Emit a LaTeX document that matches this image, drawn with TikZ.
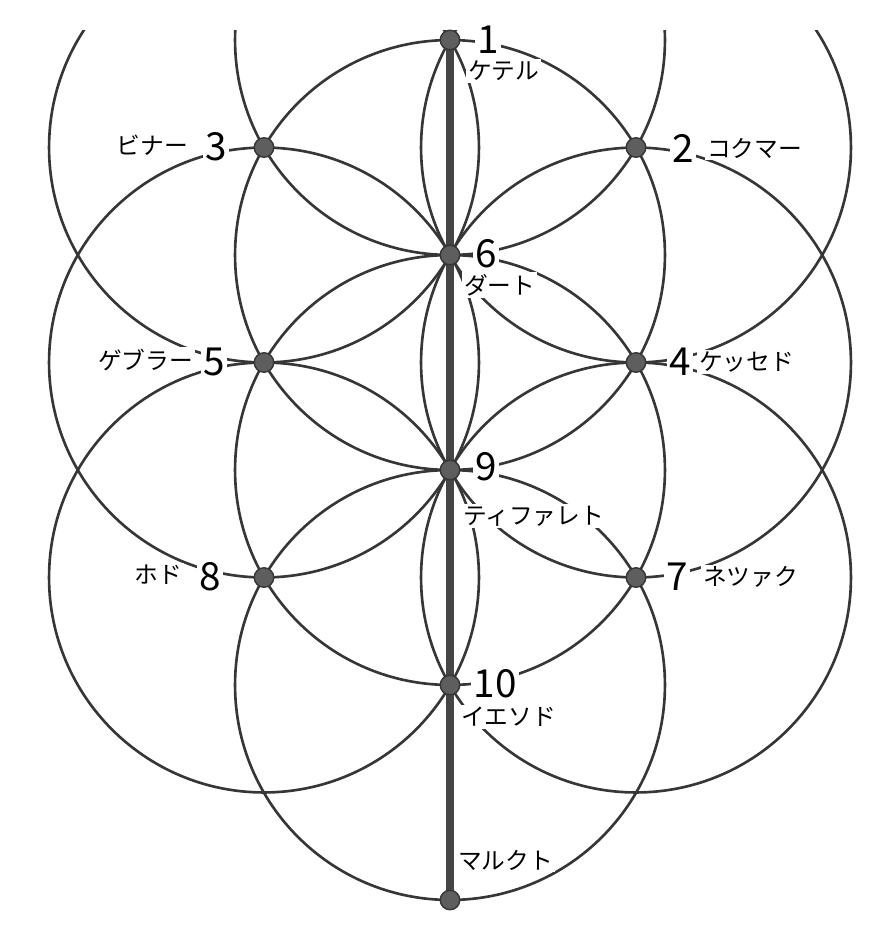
\documentclass[tikz,border=0pt]{standalone}
\usepackage{fontspec}
\newfontfamily\jpfont{Noto Sans CJK JP}
\usetikzlibrary{positioning}
\definecolor{ink}{HTML}{363636}
\definecolor{dotfill}{HTML}{5E5E5E}
\definecolor{stemgray}{HTML}{454545}

\begin{document}
\begin{tikzpicture}[x=0.02cm,y=-0.02cm,
                    ring/.style={draw=ink,line width=1.5pt},
                    dot/.style={circle,draw=ink,fill=dotfill,line width=0.8pt,inner sep=0pt,minimum size=0.39cm},
                    num/.style={fill=white,inner sep=1.5pt,font=\jpfont\fontsize{22}{25}\selectfont},
                    lbl/.style={fill=white,inner sep=1pt,font=\jpfont\fontsize{13.5}{16}\selectfont}]
  \useasboundingbox (0,0) rectangle (894,941);
  \coordinate (keter)   at (450,40);
  \coordinate (chokmah) at (636,147.5);
  \coordinate (binah)   at (264,147.5);
  \coordinate (daat)    at (450,255);
  \coordinate (chesed)  at (636,362.5);
  \coordinate (gevurah) at (264,362.5);
  \coordinate (tiferet) at (450,470);
  \coordinate (netzach) at (636,577.5);
  \coordinate (hod)     at (264,577.5);
  \coordinate (yesod)   at (450,685);
  \coordinate (malkut)  at (450,900);
  % circles of the flower
  \begin{scope}
    \clip (0,30) rectangle (894,941);
    \foreach \s in {keter,chokmah,binah,daat,chesed,gevurah,tiferet,netzach,hod,yesod}
      \draw[ring] (\s) circle[radius=4.3cm];
  \end{scope}
  \draw[stemgray,line width=4.2pt] (keter) -- (malkut);
  \foreach \s in {keter,chokmah,binah,daat,chesed,gevurah,tiferet,netzach,hod,yesod,malkut}
    \node[dot] (\s-dot) at (\s) {};
  % numbers
  \node[num] (keter-n)   at (488,40)  {1};
  \node[num] (chokmah-n) at (683,148) {2};
  \node[num] (binah-n)   at (216,147) {3};
  \node[num] (chesed-n)  at (680,362) {4};
  \node[num] (gevurah-n) at (214,362) {5};
  \node[num] (daat-n)    at (486,254) {6};
  \node[num] (netzach-n) at (677,577) {7};
  \node[num] (hod-n)     at (210,577) {8};
  \node[num] (tiferet-n) at (486,467) {9};
  \node[num] (yesod-n)   at (495,684) {10};
  % names
  \node[lbl,anchor=west] (keter-l)   at (466,71)  {ケテル};
  \node[lbl,anchor=west] (chokmah-l) at (705,148) {コクマー};
  \node[lbl,anchor=east] (binah-l)   at (190,145) {ビナー};
  \node[lbl,anchor=west] (daat-l)    at (462,285) {ダート};
  \node[lbl,anchor=west] (chesed-l)  at (697,362) {ケッセド};
  \node[lbl,anchor=east] (gevurah-l) at (195,360) {ゲブラー};
  \node[lbl,anchor=west] (tiferet-l) at (461,516) {ティファレト};
  \node[lbl,anchor=west] (netzach-l) at (701,577) {ネツァク};
  \node[lbl,anchor=east] (hod-l)     at (184,575) {ホド};
  \node[lbl,anchor=west] (yesod-l)   at (459,717) {イエソド};
  \node[lbl,anchor=west] (malkut-l)  at (456,860) {マルクト};
\end{tikzpicture}
\end{document}
